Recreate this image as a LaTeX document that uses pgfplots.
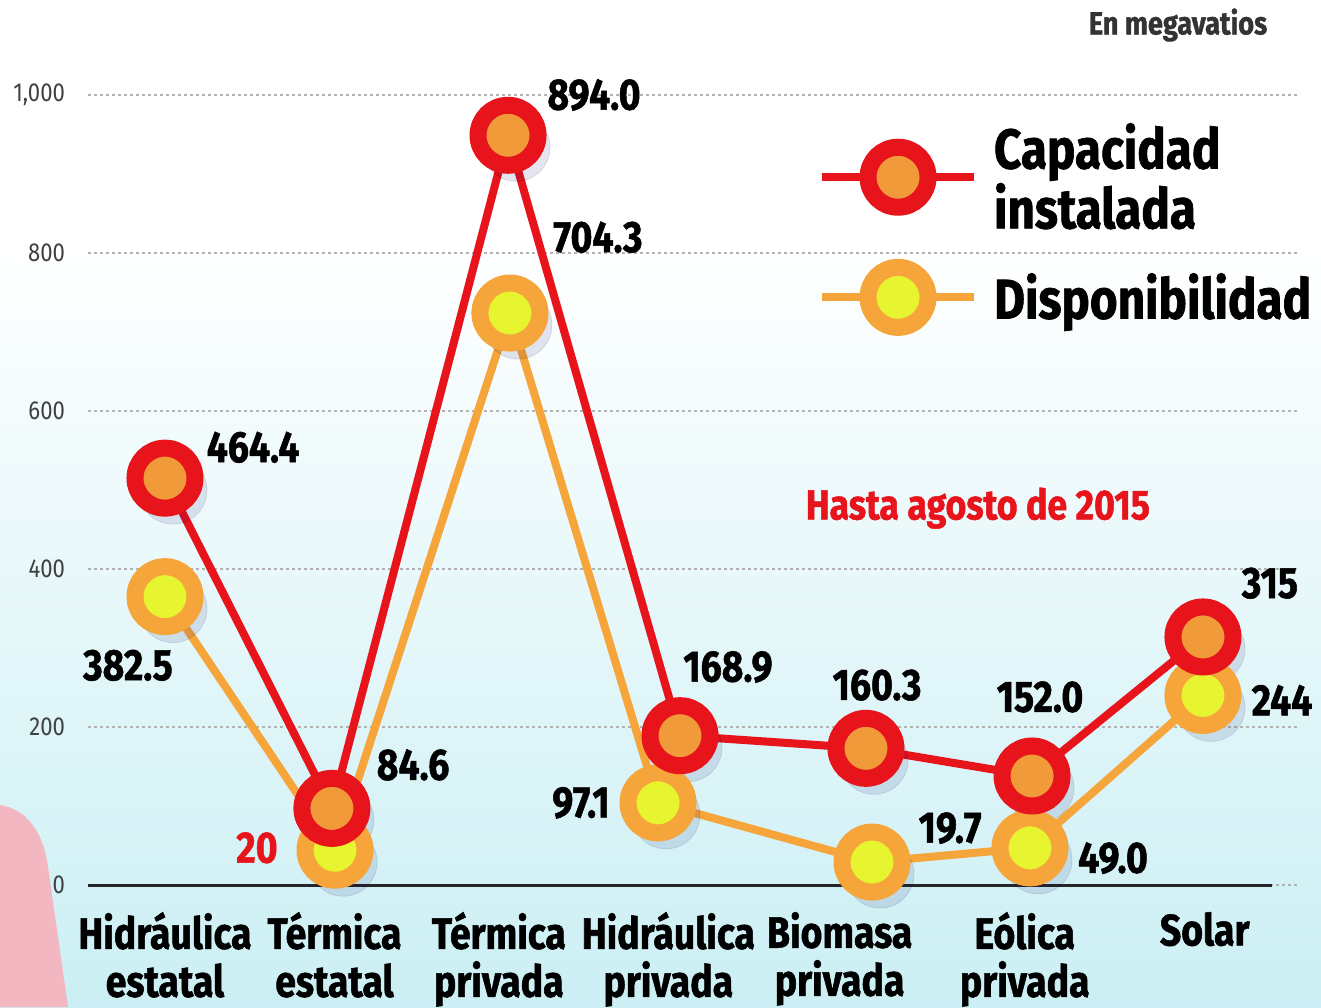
\documentclass[border=0pt]{standalone}
\usepackage{fontspec}
\setmainfont{Fira Sans}[FakeStretch=0.85, BoldFeatures={FakeBold=1.2}]
\usepackage{pgfplots}
\pgfplotsset{compat=1.18}
\definecolor{capred}{HTML}{E8141B}
\definecolor{capfill}{HTML}{F09A3A}
\definecolor{disor}{HTML}{F5A53A}
\definecolor{disyel}{HTML}{E6F530}
\definecolor{bgmid}{HTML}{EBF9FB}
\definecolor{bgbot}{HTML}{CBEFF4}
\definecolor{pinkbody}{HTML}{F3B7C2}

\begin{document}
\begin{tikzpicture}
\useasboundingbox (0pt,0pt) rectangle (660.5pt,503.5pt);
% background
\fill[white] (0pt,380pt) rectangle (660.5pt,503.5pt);
\shade[top color=white, middle color=bgmid, bottom color=bgbot] (0pt,0pt) rectangle (660.5pt,380.5pt);
\fill[pinkbody] (0pt,101pt) .. controls (14pt,99pt) and (22pt,86pt) .. (24pt,70pt) -- (34pt,0pt) -- (0pt,0pt) -- cycle;

\begin{axis}[
  at={(44pt,61pt)}, anchor=south west,
  scale only axis, width=606pt, height=395pt,
  xmin=-0.445, xmax=6.561, ymin=0, ymax=1000,
  clip=false,
  axis line style={draw=none},
  tick style={draw=none},
  ytick={0,200,...,1000},
  ymajorgrids,
  grid style={dash pattern=on 1.5pt off 1.5pt, line width=1pt, black!30},
  yticklabel style={font=\fontsize{13}{13}\selectfont, text=black!75, anchor=east, xshift=-8pt,
    /pgf/number format/.cd, 1000 sep={,}, assume math mode=true},
  xtick={0,0.98,1.93,2.91,3.9,4.97,6.01},
  xticklabels={{Hidráulica\\estatal},{Térmica\\estatal},{Térmica\\privada},{Hidráulica\\privada},{Biomasa\\privada},{Eólica\\privada},{Solar}},
  xticklabel style={align=center, font=\bfseries\fontsize{22}{24}\selectfont, anchor=north, yshift=-10pt},
  reverse legend,
  legend cell align=left,
  legend style={at={(0.602,0.97)}, anchor=north west, draw=none, fill=none, inner sep=0pt,
    font=\bfseries\fontsize{28}{28.5}\selectfont, cells={align=left}, row sep=16pt,
    /tikz/every odd column/.append style={column sep=6pt}},
  legend image code/.code={\draw[mark repeat=2, mark phase=2, #1] plot coordinates {(0pt,0pt) (38pt,0pt) (76pt,0pt)};},
]
\draw[line width=1.5pt, black!85] (axis cs:-0.445,0) -- (axis cs:6.40,0);

% soft shadows under the markers
\addplot[only marks, mark=*, mark size=17pt, draw=none, fill=black!60!blue, opacity=0.10,
  mark options={xshift=4pt, yshift=-6pt}, forget plot]
  coordinates {(0,365) (0.983,44) (1.994,724) (2.85,104) (4.087,29) (5.0,47) (6.0,240)
               (0,515) (0.965,97) (1.983,949) (2.977,189) (4.052,173) (5.012,138) (6.0,314)};

\addplot[disor, line width=4pt, mark=*, mark size=15pt,
  mark options={draw=disor, fill=disyel, line width=8.5pt}]
  coordinates {(0,365) (0.983,44) (1.994,724) (2.85,104) (4.087,29) (5.0,47) (6.0,240)};
\addlegendentry{Disponibilidad}

\addplot[capred, line width=4pt, mark=*, mark size=15pt,
  mark options={draw=capred, fill=capfill, line width=8.5pt}]
  coordinates {(0,515) (0.965,97) (1.983,949) (2.977,189) (4.052,173) (5.012,138) (6.0,314)};
\addlegendentry{Capacidad\\instalada}

\begin{scope}[every node/.style={font=\bfseries\fontsize{22}{22}\selectfont}]
\node at (axis cs:0.509,554) {464.4};
\node at (axis cs:-0.214,278) {382.5};
\node at (axis cs:1.434,152) {84.6};
\node[text=capred] at (axis cs:0.532,47) {20};
\node at (axis cs:2.48,1000) {894.0};
\node at (axis cs:2.503,820) {704.3};
\node at (axis cs:3.254,276) {168.9};
\node at (axis cs:2.405,104) {97.1};
\node at (axis cs:4.116,253) {160.3};
\node at (axis cs:4.538,72) {19.7};
\node at (axis cs:5.058,238) {152.0};
\node at (axis cs:5.48,34) {49.0};
\node at (axis cs:6.387,382) {315};
\node at (axis cs:6.457,234) {244};
\end{scope}
\node[text=capred, font=\bfseries\fontsize{21}{21}\selectfont] at (axis cs:4.699,477) {Hasta agosto de 2015};
\end{axis}
\node[text=black!80, font=\bfseries\fontsize{16}{16}\selectfont] at (589pt,491pt) {En megavatios};
\end{tikzpicture}
\end{document}
